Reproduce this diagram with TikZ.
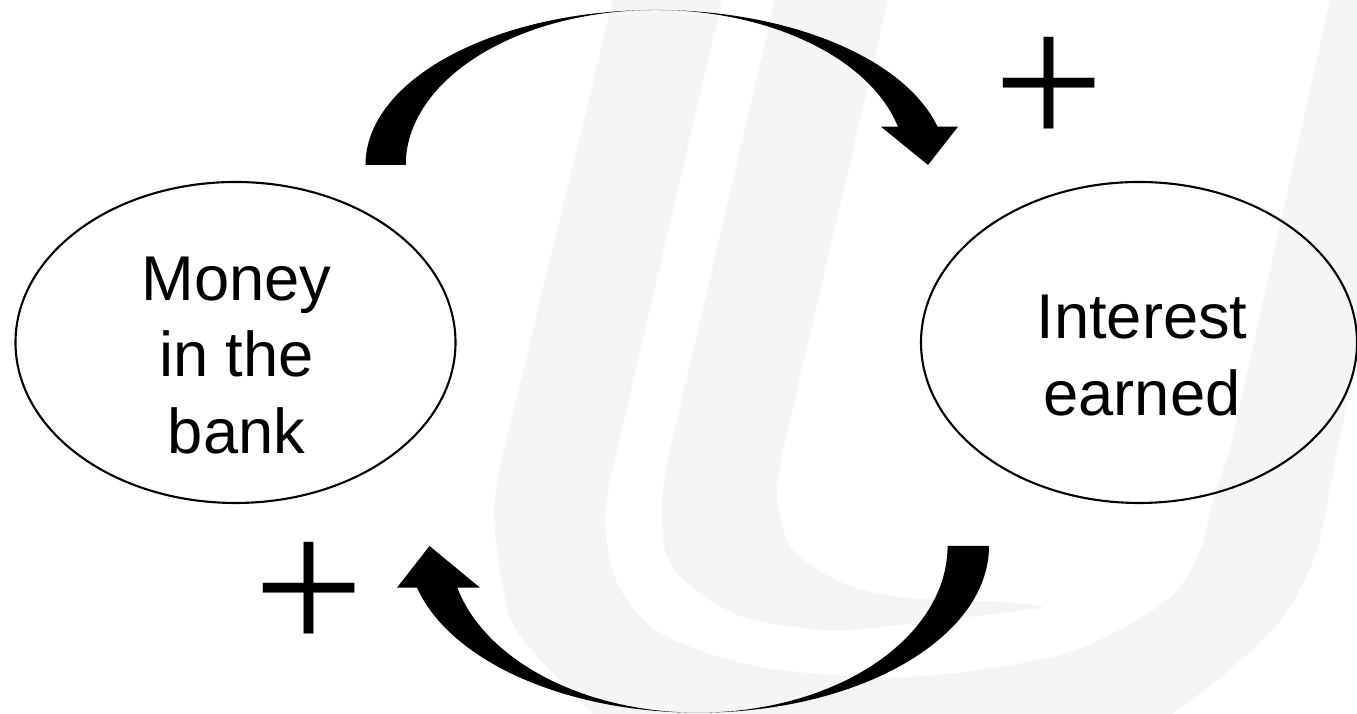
\documentclass[tikz,border=0pt]{standalone}
\usepackage{fontspec}
\setmainfont{Liberation Sans}
\newfontfamily\plusfont{Liberation Serif}
\usetikzlibrary{shapes.geometric,calc}
\definecolor{wmgrey}{HTML}{F5F5F5}
\tikzset{
  bubble/.style={draw=black, ellipse, line width=0.6pt, inner sep=0pt,
    minimum width=4.40cm, minimum height=3.21cm},
  bubbletext/.style={align=center, inner sep=0pt, font=\fontsize{18}{21.8}\selectfont},
  plussign/.style={inner sep=0pt, font=\plusfont\fontsize{56}{56}\selectfont},
  loopfill/.style={fill=black},
  watermark/.style={fill=wmgrey},
}
\begin{document}
\begin{tikzpicture}
  \useasboundingbox (0,0) rectangle (13.57,7.14);
  % faint logo in the background
  \begin{scope}
    \clip (0,0) rectangle (13.57,7.14);
    \fill[watermark] (6.13,7.14) -- (5.04,2.64)
      -- plot[smooth] coordinates {(5.04,2.64) (4.94,1.97) (5.10,0.97) (5.47,0.47) (5.93,0.00)}
      -- (5.93,-0.2) -- (11.73,-0.2) -- (11.73,0.00)
      -- plot[smooth] coordinates {(11.73,0.00) (12.33,0.47) (12.83,0.97) (13.17,1.64) (13.37,2.64)}
      -- (14.36,7.14) -- (13.30,7.14) -- (12.30,2.64)
      -- plot[smooth] coordinates {(12.30,2.64) (12.13,2.14) (12.00,1.64) (11.67,1.14) (10.67,0.61)
           (9.10,0.37) (7.60,0.47) (6.60,0.81) (6.17,1.31) (6.05,1.97) (6.17,2.64)}
      -- (7.22,7.14) -- cycle;
    \fill[watermark] (7.75,7.14) -- (6.70,2.64)
      -- plot[smooth] coordinates {(6.70,2.64) (6.62,2.14) (6.65,1.64) (6.87,1.31) (7.43,0.97)
           (8.27,0.84) (9.00,0.89) (10.00,1.01) (10.43,1.07) (10.00,1.12) (9.00,1.17)
           (8.43,1.31) (7.93,1.64) (7.77,2.14) (7.83,2.64)}
      -- (8.88,7.14) -- cycle;
  \end{scope}

  % bubbles
  \node[bubble] (money) at (2.355,3.715) {};
  \node[bubbletext] (moneytext) at ([xshift=0.01cm,yshift=-0.13cm]money.center) {Money\\in the\\bank};
  \node[bubble, minimum width=4.36cm] (interest) at (11.39,3.715) {};
  \node[bubbletext] (interesttext) at ([xshift=0.03cm,yshift=-0.13cm]interest.center) {Interest\\earned};

  % loop arrows
  \coordinate (topc) at (6.56,5.49);
  \coordinate (botc) at (6.984,1.68);
  \fill[loopfill] ($(topc)+(-2.905,0)$)
    arc[start angle=180, end angle=14.3, x radius=2.905, y radius=1.55]
    -- ($(topc)+(3.02,0.383)$) -- ($(topc)+(2.72,0)$) -- ($(topc)+(2.25,0.383)$)
    -- ($(topc)+(2.42,0.383)$)
    arc[start angle=14.3, end angle=180, x radius=2.50, y radius=1.55] -- cycle;
  \fill[loopfill] ($(botc)+(2.906,0)$)
    arc[start angle=0, end angle=-165.5, x radius=2.906, y radius=1.667]
    -- ($(botc)+(-3.014,-0.417)$) -- ($(botc)+(-2.689,0)$) -- ($(botc)+(-2.184,-0.417)$)
    -- ($(botc)+(-2.411,-0.417)$)
    arc[start angle=-165.5, end angle=0, x radius=2.491, y radius=1.667] -- cycle;

  % signs
  \node[plussign] (plusright) at (10.49,6.21) {+};
  \node[plussign] (plusleft) at (3.085,1.16) {+};
\end{tikzpicture}
\end{document}
